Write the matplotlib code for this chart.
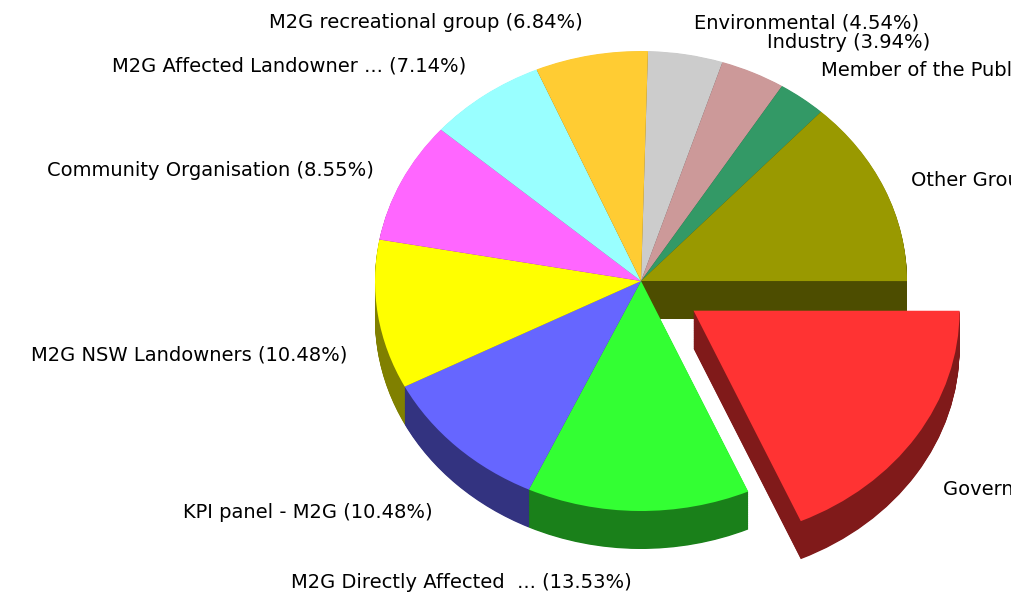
import numpy as np
import matplotlib.pyplot as plt
import matplotlib.colors as mcolors

# Stakeholder groups, clockwise from the top
groups = ['Environmental', 'Industry', 'Member of the Public', 'Other Group',
          'Government', 'M2G Directly Affected  ...', 'KPI panel - M2G',
          'M2G NSW Landowners', 'Community Organisation',
          'M2G Affected Landowner ...', 'M2G recreational group']
shares = [4.54, 3.94, 2.94, 13.17, 18.39, 13.53, 10.48, 10.48, 8.55, 7.14, 6.84]
colours = ['#CCCCCC', '#CC9999', '#339966', '#999900', '#FF3333', '#33FF33',
           '#6666FF', '#FFFF00', '#FF66FF', '#99FFFF', '#FFCC33']
pulled_out = 'Government'

W, H = 1012, 596
RX, RY = 266, 230          # ellipse half axes, px
CX, CY = 641, 281          # pie centre, px from top-left
DEPTH = 38                 # thickness of the 3D rim, px
yscale = RX / RY           # y data units per pixel

fig = plt.figure(figsize=(W / 100, H / 100), dpi=100)
ax = fig.add_axes([0, 0, 1, 1])

cx = CX
cy = (H - CY) * yscale
explode = [0.236 * RX if g == pulled_out else 0 for g in groups]
sides = [tuple(0.5 * v for v in mcolors.to_rgb(c)) for c in colours]

pie_kw = dict(startangle=88.5, counterclock=False, explode=explode, radius=RX,
              wedgeprops=dict(linewidth=0))

# rim: stack of darker pies going down, then the top face
for off in np.arange(DEPTH * yscale, 0, -0.8):
    ax.pie(shares, colors=sides, center=(cx, cy - off), **pie_kw)
ax.pie(shares, colors=colours, center=(cx, cy), **pie_kw)

ax.set_aspect('auto')
ax.set_xlim(0, W)
ax.set_ylim(0, H * yscale)
ax.axis('off')

labels = [f'{g} ({s:.2f}%)' for g, s in zip(groups, shares)]

# label anchor (x px, y px, alignment); the right-hand ones run off the edge
spots = [(694, 23, 'left'), (767, 43, 'left'), (821, 70, 'left'),
         (911, 180, 'left'), (943, 489, 'left'), (632, 582, 'right'),
         (433, 513, 'right'), (347, 355, 'right'), (374, 170, 'right'),
         (466, 66, 'right'), (583, 22, 'right')]

for txt, (x, y, ha) in zip(labels, spots):
    fig.text(x / W, 1 - y / H, txt, ha=ha, va='center', fontsize=14,
             family='DejaVu Sans', color='#000000')

plt.savefig('out.png', dpi=100)
